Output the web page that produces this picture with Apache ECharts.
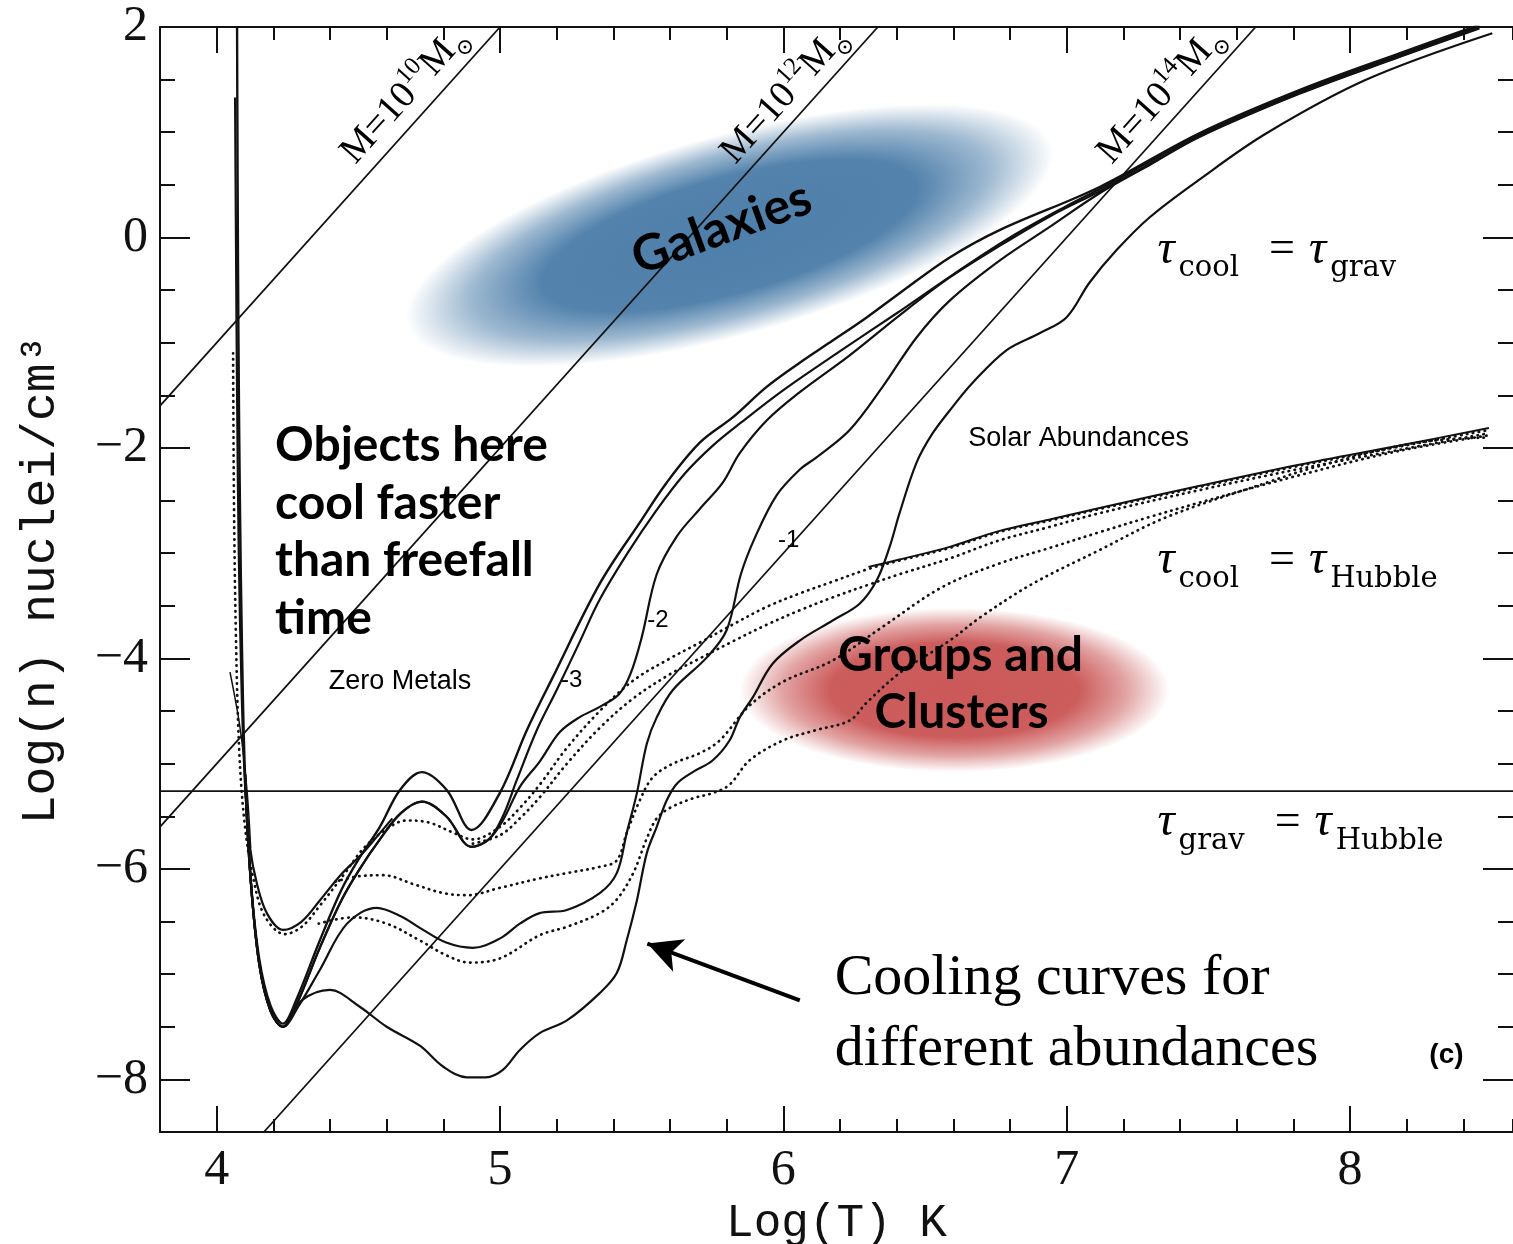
<!DOCTYPE html>
<html><head><meta charset="utf-8">
<script src="https://cdn.jsdelivr.net/npm/echarts@6/dist/echarts.min.js"></script>
<style>html,body{margin:0;padding:0;background:#fff}#c{width:1513px;height:1244px}</style>
</head><body><div id="c"></div>
<script>
// ---------- axes / ticks ----------
const xMajorTicks = [4, 5, 6, 7, 8];
const yMajorTicks = [-8, -6, -4, -2, 0, 2];

// ---------- straight reference lines ----------
const massLine10 = [[3.8, -1.6], [5.0, 2.0]];
const massLine12 = [[3.8, -5.6], [6.3333, 2.0]];
const massLine14 = [[4.1667, -8.5], [7.6667, 2.0]];
const gravHubbleLine = [[3.8, -5.26], [8.575, -5.26]];

// ---------- t_cool = t_grav (solid) ----------
const zeroMetals = [[4.072,2.0],[4.074,0.5],[4.077,-1.0],[4.082,-2.5],[4.09,-4.0],[4.10,-5.1],[4.12,-6.1],[4.15,-6.85],[4.19,-7.3],[4.234,-7.47],[4.28,-7.25],[4.364,-6.68],[4.44,-6.2],[4.505,-5.89],[4.576,-5.6],[4.647,-5.25],[4.724,-5.08],[4.812,-5.25],[4.90,-5.63],[4.999,-5.28],[5.095,-4.68],[5.186,-4.18],[5.352,-3.29],[5.493,-2.71],[5.588,-2.33],[5.705,-1.95],[5.821,-1.71],[5.941,-1.42],[6.058,-1.19],[6.174,-0.98],[6.294,-0.76],[6.41,-0.53],[6.587,-0.19],[6.763,0.07],[7.116,0.48],[7.468,0.99],[7.821,1.40],[8.174,1.75],[8.456,2.02]];
const metalsMinus3 = [[4.10,-5.1],[4.12,-6.1],[4.15,-6.9],[4.19,-7.35],[4.234,-7.5],[4.28,-7.3],[4.364,-6.75],[4.44,-6.3],[4.505,-6.0],[4.576,-5.72],[4.65,-5.47],[4.724,-5.36],[4.81,-5.5],[4.90,-5.79],[4.96,-5.72],[5.01,-5.5],[5.06,-5.15],[5.13,-4.68],[5.2,-4.3],[5.28,-3.85],[5.35,-3.45],[5.45,-3.0],[5.55,-2.6],[5.65,-2.25],[5.75,-1.98],[5.85,-1.76],[6.0,-1.45],[6.2,-1.08],[6.4,-0.72],[6.6,-0.35],[6.8,0.0],[7.0,0.3],[7.116,0.46],[7.3,0.73],[7.468,0.975],[7.821,1.385],[8.174,1.735],[8.456,2.005]];
const metalsMinus2 = [[4.10,-5.1],[4.12,-6.1],[4.15,-6.9],[4.19,-7.35],[4.234,-7.5],[4.28,-7.3],[4.364,-6.75],[4.44,-6.3],[4.505,-6.0],[4.576,-5.72],[4.65,-5.47],[4.724,-5.36],[4.81,-5.5],[4.90,-5.79],[4.96,-5.72],[5.01,-5.54],[5.07,-5.22],[5.14,-4.98],[5.211,-4.7],[5.28,-4.56],[5.352,-4.46],[5.42,-4.34],[5.46,-4.15],[5.5,-3.8],[5.553,-3.2],[5.624,-2.84],[5.705,-2.58],[5.786,-2.33],[5.846,-2.05],[5.941,-1.74],[6.058,-1.47],[6.234,-1.12],[6.41,-0.74],[6.587,-0.38],[6.763,-0.08],[6.94,0.2],[7.116,0.44],[7.3,0.71],[7.468,0.96],[7.821,1.37],[8.174,1.72],[8.456,1.99]];
const metalsMinus1 = [[4.10,-5.1],[4.12,-6.1],[4.15,-6.9],[4.19,-7.35],[4.234,-7.5],[4.29,-7.3],[4.364,-6.96],[4.46,-6.52],[4.565,-6.37],[4.65,-6.45],[4.717,-6.56],[4.81,-6.7],[4.904,-6.75],[5.0,-6.66],[5.07,-6.52],[5.14,-6.42],[5.236,-6.39],[5.352,-6.23],[5.412,-6.04],[5.447,-5.66],[5.483,-5.28],[5.518,-4.81],[5.553,-4.56],[5.61,-4.30],[5.73,-3.99],[5.8,-3.73],[5.85,-3.2],[5.9,-2.85],[5.976,-2.45],[6.06,-2.2],[6.117,-2.09],[6.234,-1.83],[6.35,-1.42],[6.47,-0.95],[6.587,-0.6],[6.763,-0.22],[6.94,0.10],[7.116,0.42],[7.3,0.70],[7.468,0.955],[7.821,1.365],[8.174,1.715],[8.456,1.985]];
const solarAbund = [[4.10,-5.1],[4.12,-6.1],[4.15,-6.9],[4.19,-7.35],[4.234,-7.5],[4.30,-7.25],[4.40,-7.15],[4.5,-7.3],[4.6,-7.5],[4.717,-7.68],[4.80,-7.88],[4.883,-7.98],[4.95,-7.98],[5.01,-7.91],[5.07,-7.72],[5.14,-7.56],[5.236,-7.44],[5.352,-7.18],[5.412,-6.99],[5.447,-6.68],[5.483,-6.30],[5.518,-5.85],[5.553,-5.60],[5.588,-5.35],[5.624,-5.19],[5.68,-5.08],[5.75,-4.97],[5.81,-4.78],[5.846,-4.56],[5.892,-4.37],[5.962,-4.05],[6.058,-3.83],[6.174,-3.64],[6.269,-3.48],[6.329,-3.26],[6.375,-2.94],[6.41,-2.62],[6.47,-2.14],[6.527,-1.86],[6.6,-1.6],[6.668,-1.38],[6.788,-1.07],[6.904,-0.91],[6.999,-0.76],[7.08,-0.43],[7.176,-0.12],[7.292,0.19],[7.468,0.55],[7.705,0.99],[8.058,1.50],[8.502,1.94]];
const upperMinSolid = [[4.065,1.33],[4.068,0.0],[4.072,-1.5],[4.078,-3.0],[4.088,-4.3],[4.10,-5.2],[4.118,-5.8],[4.142,-6.14],[4.177,-6.42],[4.234,-6.58],[4.30,-6.5],[4.364,-6.30],[4.44,-6.05],[4.516,-5.85],[4.576,-5.66],[4.62,-5.52]];
const shortSolid = [[4.047,-4.13],[4.082,-4.65],[4.107,-5.25],[4.12,-5.8]];

// ---------- t_cool = t_Hubble ----------
const hubbleSolid = [[6.3,-3.13],[6.41,-3.06],[6.587,-2.94],[6.76,-2.79],[6.94,-2.68],[7.116,-2.57],[7.47,-2.36],[7.82,-2.16],[8.17,-1.98],[8.49,-1.81]];
const hubbleDotA = [[4.058,-1.1],[4.061,-2.5],[4.068,-3.8],[4.08,-4.9],[4.10,-5.6],[4.13,-6.1],[4.17,-6.45],[4.24,-6.62],[4.30,-6.55],[4.364,-6.35],[4.45,-6.05],[4.52,-5.8],[4.6,-5.62],[4.67,-5.54],[4.75,-5.56],[4.83,-5.65],[4.904,-5.72],[5.0,-5.6],[5.07,-5.42],[5.14,-5.2],[5.236,-4.85],[5.352,-4.5],[5.47,-4.21],[5.6,-4.0],[5.705,-3.85],[5.82,-3.68],[5.941,-3.51],[6.06,-3.38],[6.174,-3.27],[6.3,-3.15],[6.41,-3.07],[6.587,-2.95],[6.76,-2.8],[6.94,-2.69],[7.116,-2.58],[7.47,-2.37],[7.82,-2.17],[8.17,-1.99],[8.49,-1.83]];
const hubbleDotB = [[4.904,-5.76],[5.0,-5.68],[5.07,-5.52],[5.14,-5.32],[5.236,-5.0],[5.352,-4.66],[5.47,-4.38],[5.6,-4.15],[5.705,-4.0],[5.82,-3.84],[5.941,-3.68],[6.06,-3.54],[6.174,-3.42],[6.3,-3.3],[6.41,-3.2],[6.587,-3.05],[6.76,-2.88],[6.94,-2.75],[7.116,-2.62],[7.47,-2.4],[7.82,-2.2],[8.17,-2.02],[8.49,-1.86]];
const hubbleDotC = [[4.42,-6.12],[4.50,-6.07],[4.587,-6.06],[4.7,-6.15],[4.8,-6.23],[4.883,-6.25],[5.0,-6.18],[5.14,-6.09],[5.236,-6.04],[5.352,-5.98],[5.412,-5.92],[5.447,-5.66],[5.493,-5.35],[5.539,-5.13],[5.61,-5.0],[5.705,-4.9],[5.775,-4.78],[5.88,-4.45],[6.0,-4.22],[6.174,-4.02],[6.35,-3.7],[6.562,-3.32],[6.76,-3.1],[6.94,-2.95],[7.116,-2.80],[7.3,-2.65],[7.468,-2.52],[7.82,-2.26],[8.17,-2.03],[8.49,-1.88]];
const hubbleDotD = [[4.36,-6.52],[4.48,-6.46],[4.6,-6.52],[4.717,-6.68],[4.81,-6.82],[4.893,-6.89],[5.0,-6.85],[5.14,-6.63],[5.236,-6.55],[5.352,-6.42],[5.412,-6.29],[5.47,-6.04],[5.518,-5.71],[5.553,-5.52],[5.6,-5.42],[5.68,-5.33],[5.75,-5.28],[5.81,-5.2],[5.88,-4.97],[5.998,-4.78],[6.117,-4.68],[6.234,-4.59],[6.294,-4.42],[6.41,-4.14],[6.587,-3.83],[6.7,-3.6],[6.88,-3.29],[7.116,-2.97],[7.35,-2.66],[7.705,-2.33],[7.881,-2.18],[8.234,-1.95],[8.491,-1.90]];

// ---------- chart ----------
const ink = '#111';
const X0 = 3.8, X1 = 8.575, Y0 = -8.5, Y1 = 2;
const chart = echarts.init(document.getElementById('c'));

function solid(data, w, sm) {
  return {type:'line', data, xAxisIndex:0, yAxisIndex:0, showSymbol:false, symbol:'none',
    smooth: sm === undefined ? 0.35 : sm, silent:true, z:3,
    lineStyle:{color:ink, width:w || 2.2}};
}
function dotted(data) {
  return {type:'line', data, xAxisIndex:0, yAxisIndex:0, showSymbol:false, symbol:'none',
    smooth:0.35, silent:true, z:3,
    lineStyle:{color:ink, width:2.7, type:[0.5, 5.5], cap:'round'}};
}
const tickStyle = {color:ink, width:2};
function xAx(pos, major) {
  const a = {type:'value', position:pos, min:X0, max:X1, splitLine:{show:false},
    axisLine:{show:major, onZero:false, lineStyle:{color:ink, width:2}},
    axisTick:{show:true, inside:true, length: major ? 26 : 13, lineStyle:tickStyle},
    axisLabel:{show:false}};
  if (major) a.axisTick.customValues = xMajorTicks; else a.interval = 0.2;
  if (major && pos === 'bottom') {
    a.axisLabel = {show:true, customValues:xMajorTicks, margin:14, color:ink,
      fontFamily:'Liberation Serif', fontSize:50};
    a.name = 'Log(T) K'; a.nameLocation = 'middle'; a.nameGap = 62;
    a.nameTextStyle = {fontFamily:'Liberation Mono', fontSize:46, color:ink};
  }
  return a;
}
function yAx(pos, major) {
  const a = {type:'value', position:pos, min:Y0, max:Y1, splitLine:{show:false},
    axisLine:{show: major && pos === 'left', onZero:false, lineStyle:{color:ink, width:2}},
    axisTick:{show:true, inside:true, length: major ? 30 : 15, lineStyle:tickStyle},
    axisLabel:{show:false}};
  if (major) a.axisTick.customValues = yMajorTicks; else a.interval = 0.5;
  if (major && pos === 'left') {
    a.axisLabel = {show:true, customValues:yMajorTicks, margin:12, color:ink,
      fontFamily:'Liberation Serif', fontSize:50,
      formatter: v => v < 0 ? '\u2212' + Math.abs(v) : String(v)};
    a.name = 'Log(n) nuclei/cm\u00b3'; a.nameLocation = 'middle'; a.nameGap = 95;
    a.nameTextStyle = {fontFamily:'Liberation Mono', fontSize:48, color:ink};
  }
  return a;
}

chart.setOption({
  animation:false,
  backgroundColor:'#fff',
  grid:{left:160, right:0, top:27, bottom:112, containLabel:false, outerBoundsMode:'none'},
  xAxis:[xAx('bottom', true), xAx('bottom', false), xAx('top', true), xAx('top', false)],
  yAxis:[yAx('left', true), yAx('left', false), yAx('right', true), yAx('right', false)],
  series:[
    solid(massLine10, 1.8, false), solid(massLine12, 1.8, false), solid(massLine14, 1.8, false),
    solid(gravHubbleLine, 1.8, false),
    solid(zeroMetals, 2.4), solid(metalsMinus3), solid(metalsMinus2),
    solid(metalsMinus1), solid(solarAbund), solid(upperMinSolid), solid(shortSolid, 1.5),
    solid(hubbleSolid, 2),
    dotted(hubbleDotA), dotted(hubbleDotB), dotted(hubbleDotC), dotted(hubbleDotD),
    {type:'line', data:[], xAxisIndex:0, yAxisIndex:0, silent:true,
      markLine:{silent:true, symbol:['none','arrow'], symbolSize:[26,34], label:{show:false},
        lineStyle:{color:'#000', width:4, type:'solid'},
        data:[[{coord:[6.058,-7.249]},{coord:[5.52,-6.71]}]]}}
  ]
});

// ---------- annotations (anchored in data space) ----------
const P = p => chart.convertToPixel({xAxisIndex:0, yAxisIndex:0}, p);
function txt(p, text, style, extra) {
  const q = P(p);
  return Object.assign({type:'text', x:q[0], y:q[1], z:100,
    style:Object.assign({text, fill:'#000', align:'center', verticalAlign:'middle'}, style)}, extra || {});
}
function blob(p, r, sx, sy, rot, c) {
  const q = P(p);
  return {type:'circle', x:q[0], y:q[1], scaleX:sx, scaleY:sy, rotation:rot, z:1, silent:true,
    shape:{cx:0, cy:0, r:r},
    style:{fill:{type:'radial', x:0.5, y:0.5, r:0.5, colorStops:[
      {offset:0, color:'rgba('+c+',1)'}, {offset:0.58, color:'rgba('+c+',0.97)'},
      {offset:0.8, color:'rgba('+c+',0.55)'}, {offset:1, color:'rgba('+c+',0)'}]}}};
}
const bold = {fontFamily:'Lato', fontWeight:'bold', fontSize:48};
const sans = {fontFamily:'Liberation Sans', fontSize:27};
const massRot = Math.atan(3 * 105.2 / 283.5);
function massLabel(p, e) {
  return txt(p, 'M=10{sup|' + e + '}M{sub|\u2299}', {fontFamily:'Liberation Serif', fontSize:38,
    lineHeight:50, rich:{sup:{fontFamily:'Liberation Serif', fontSize:25, lineHeight:25, verticalAlign:'top'},
      sub:{fontFamily:'DejaVu Serif', fontSize:22, lineHeight:22, verticalAlign:'bottom'}}}, {rotation:massRot});
}
function tauLabel(p, a, b) {
  return txt(p, '{t|\u03c4}{s|' + a + '}{e|=}{t|\u03c4}{s|' + b + '}', {align:'left',
    rich:{t:{fontFamily:'Liberation Serif', fontStyle:'italic', fontSize:48, lineHeight:66},
      s:{fontFamily:'DejaVu Serif', fontSize:29, lineHeight:30, verticalAlign:'bottom', padding:[0,0,0,4]},
      e:{fontFamily:'Liberation Serif', fontSize:46, lineHeight:66, padding:[0,14,0,30]}}});
}
chart.setOption({graphic:{elements:[
  blob([5.811, 0.02], 100, 3.35, 1.0, 0.27, '78,127,170'),
  blob([6.604, -4.30], 100, 2.15, 0.82, 0.0, '203,88,88'),
  txt([5.782, 0.09], 'Galaxies', Object.assign({}, bold, {fontSize:50}), {rotation:0.35}),
  txt([6.625, -3.97], 'Groups and', bold),
  txt([6.629, -4.51], 'Clusters', bold),
  txt([4.206, -1.973], 'Objects here', Object.assign({align:'left'}, bold)),
  txt([4.206, -2.525], 'cool faster', Object.assign({align:'left'}, bold)),
  txt([4.206, -3.067], 'than freefall', Object.assign({align:'left'}, bold)),
  txt([4.206, -3.618], 'time', Object.assign({align:'left'}, bold)),
  txt([4.647, -4.22], 'Zero Metals', sans),
  txt([7.042, -1.91], 'Solar Abundances', sans),
  txt([5.253, -4.21], '-3', {fontFamily:'Liberation Sans', fontSize:24}),
  txt([5.557, -3.64], '-2', {fontFamily:'Liberation Sans', fontSize:24}),
  txt([6.019, -2.88], '-1', {fontFamily:'Liberation Sans', fontSize:24}),
  tauLabel([7.32, -0.12], 'cool', 'grav'),
  tauLabel([7.32, -3.07], 'cool', 'Hubble'),
  tauLabel([7.32, -5.56], 'grav', 'Hubble'),
  txt([6.181, -7.04], 'Cooling curves for', {fontFamily:'Liberation Serif', fontSize:58, align:'left'}),
  txt([6.181, -7.72], 'different abundances', {fontFamily:'Liberation Serif', fontSize:58, align:'left'}),
  txt([8.34, -7.77], '(c)', {fontFamily:'Liberation Sans', fontWeight:'bold', fontSize:28}),
  massLabel([4.664, 1.354], '10'),
  massLabel([6.005, 1.354], '12'),
  massLabel([7.334, 1.354], '14')
]}});
</script></body></html>
